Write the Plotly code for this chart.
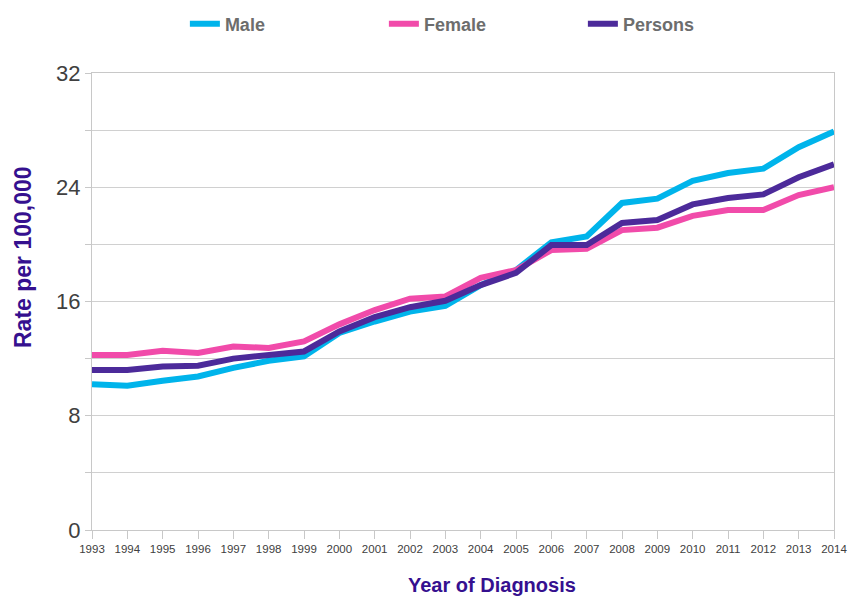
import plotly.graph_objects as go

years = list(range(1993, 2015))
male = [10.2, 10.1, 10.45, 10.75, 11.35, 11.85, 12.15, 13.8, 14.6, 15.3, 15.7, 17.15, 18.2,
        20.15, 20.55, 22.9, 23.2, 24.45, 25.0, 25.3, 26.8, 27.9]
female = [12.25, 12.25, 12.55, 12.4, 12.85, 12.75, 13.2, 14.4, 15.4, 16.2, 16.35, 17.65, 18.2,
          19.6, 19.7, 21.0, 21.17, 22.0, 22.4, 22.4, 23.45, 24.0]
persons = [11.2, 11.2, 11.45, 11.5, 12.0, 12.3, 12.5, 13.9, 14.9, 15.6, 16.05, 17.15, 18.0,
           19.95, 19.95, 21.5, 21.7, 22.8, 23.25, 23.5, 24.7, 25.6]
y_ticks = [0, 4, 8, 12, 16, 20, 24, 28, 32]
y_labels = ["0", "", "8", "", "16", "", "24", "", "32"]

series = [("Male", male, "#00B4EB"), ("Female", female, "#F14BAA"), ("Persons", persons, "#4C2A9A")]

FONT = "Liberation Sans, Arial, sans-serif"

fig = go.Figure()
for name, vals, col in series:
    fig.add_trace(go.Scatter(x=years, y=vals, name=name, mode="lines",
                             line=dict(color=col, width=6)))

fig.update_layout(
    width=849, height=599,
    margin=dict(l=92, r=15, t=73, b=69, autoexpand=False),
    plot_bgcolor="white", paper_bgcolor="white",
    font=dict(family=FONT),
    showlegend=True,
    legend=dict(orientation="h", x=0.14 - 11 / 742, xanchor="left", y=1.107, yanchor="middle",
                entrywidth=154, entrywidthmode="pixels", itemwidth=30,
                font=dict(size=18, color="#6d6d6d", weight="bold")),
    xaxis=dict(range=[1993, 2014], tickvals=years, ticktext=[str(y) for y in years],
               showgrid=False, showline=True, linecolor="#c8c8c8", linewidth=1, mirror=True,
               ticks="outside", ticklen=8, tickcolor="#c8c8c8",
               tickfont=dict(size=11.5, color="#404040"),
               zeroline=False),
    yaxis=dict(range=[0, 32], tickvals=y_ticks, ticktext=y_labels,
               showgrid=True, gridcolor="#d0d0d0", gridwidth=1,
               showline=True, linecolor="#c8c8c8", linewidth=1, mirror=True,
               ticks="outside", ticklen=6, tickcolor="#c8c8c8",
               tickfont=dict(size=22, color="#404040"),
               zeroline=False),
    annotations=[
        dict(text="Rate per 100,000", xref="paper", yref="paper",
             x=(23 - 92) / 742, y=(530 - 257) / 457, xanchor="center", yanchor="middle",
             textangle=-90, showarrow=False,
             font=dict(size=23, color="#35108f", weight="bold")),
        dict(text="Year of Diagnosis", xref="paper", yref="paper",
             x=(492 - 92) / 742, y=-(585 - 530) / 457, xanchor="center", yanchor="middle",
             showarrow=False,
             font=dict(size=20, color="#35108f", weight="bold")),
    ],
)

fig.write_html("out.html", config={"displayModeBar": False},
               post_script="document.body.style.margin='0';")
